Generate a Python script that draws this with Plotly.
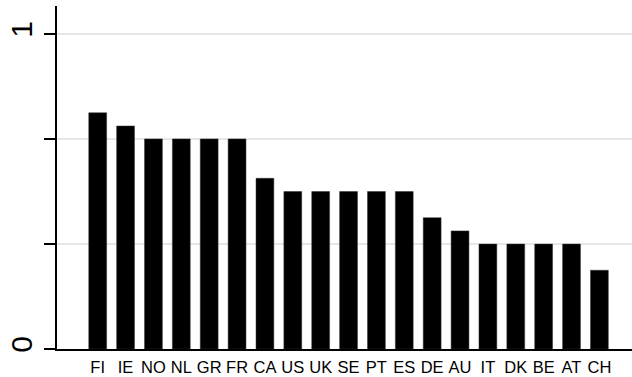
import plotly.graph_objects as go

# Country codes and their scores, sorted from highest to lowest
countries = ["FI", "IE", "NO", "NL", "GR", "FR", "CA", "US", "UK", "SE",
             "PT", "ES", "DE", "AU", "IT", "DK", "BE", "AT", "CH"]
scores = [0.75, 0.708, 0.667, 0.667, 0.667, 0.667, 0.542, 0.5, 0.5, 0.5,
          0.5, 0.5, 0.417, 0.375, 0.333, 0.333, 0.333, 0.333, 0.25]

# Y axis: ticks at thirds, labels only at the ends
y_tickvals = [0, 1/3, 2/3, 1]
y_ticktext = ["0", "", "", "1"]

positions = list(range(len(countries)))

fig = go.Figure(
    go.Bar(
        x=positions,
        y=scores,
        width=0.64,
        marker=dict(color="black", line=dict(color="#333333", width=0.5)),
        hoverinfo="skip",
    )
)

fig.update_layout(
    width=632,
    height=377,
    margin=dict(l=57, r=0, t=6, b=28),
    paper_bgcolor="white",
    plot_bgcolor="white",
    showlegend=False,
    font=dict(family="Liberation Sans, Arial, sans-serif", color="black"),
)

fig.update_xaxes(
    tickmode="array",
    tickvals=positions,
    ticktext=countries,
    range=[-1.46, len(countries) - 1 + 1.17],
    showgrid=False,
    zeroline=False,
    showline=True,
    linecolor="black",
    linewidth=1.5,
    ticks="",
    tickfont=dict(size=16.5),
    ticklabelstandoff=2,
)

fig.update_yaxes(
    tickmode="array",
    tickvals=y_tickvals,
    ticktext=y_ticktext,
    range=[0, 1.089],
    showgrid=True,
    gridcolor="#e6e6e6",
    gridwidth=1.5,
    zeroline=False,
    showline=True,
    linecolor="black",
    linewidth=1.5,
    ticks="outside",
    ticklen=11,
    tickwidth=1.5,
    tickcolor="black",
    tickangle=-90,
    tickfont=dict(size=30),
    ticklabelstandoff=0,
)

fig.write_html("out.html")
